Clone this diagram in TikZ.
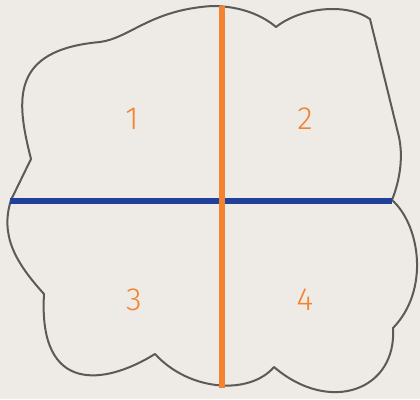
\documentclass[tikz,border=0pt]{standalone}
\usepackage{fontspec}
\newfontfamily\numfont{Fira Sans Light}
\definecolor{paper}{HTML}{EEEAE6}
\definecolor{edge}{HTML}{5C5A58}
\definecolor{split}{HTML}{F5822F}
\definecolor{cut}{HTML}{21409A}

\begin{document}
\begin{tikzpicture}[x=1pt,y=-1pt,font=\numfont\fontsize{32}{32}\selectfont]
  \useasboundingbox (0,0) rectangle (420,399);
  \fill[paper] (0,0) rectangle (420,399);
  % outline of the region
  \draw[edge,line width=2pt,line join=round]
    (11,200) -- (31,159)
    .. controls (16,100) and (10,50) .. (100,42)
    .. controls (130,38) and (150,10) .. (212,6)
    .. controls (240,6) and (262,15) .. (276,27)
    .. controls (300,8) and (345,2) .. (370,19)
    -- (398,133)
    .. controls (404,155) and (400,180) .. (392,200)
    .. controls (420,225) and (430,290) .. (393,328)
    .. controls (397,390) and (330,415) .. (274,367)
    .. controls (250,395) and (190,392) .. (155,354)
    .. controls (105,385) and (38,395) .. (44,294)
    .. controls (15,262) and (0,235) .. (11,200) -- cycle;
  % the two cuts
  \coordinate (west) at (10,201);
  \coordinate (east) at (392,201);
  \coordinate (north) at (222,6);
  \coordinate (south) at (222,388);
  \draw[cut,line width=6pt] (west) -- (east);
  \draw[split,line width=6pt] (north) -- (south);
  % quarters
  \node[split] (q1) at (132,119) {1};
  \node[split] (q2) at (305,119) {2};
  \node[split] (q3) at (134,300) {3};
  \node[split] (q4) at (305,300) {4};
\end{tikzpicture}
\end{document}
